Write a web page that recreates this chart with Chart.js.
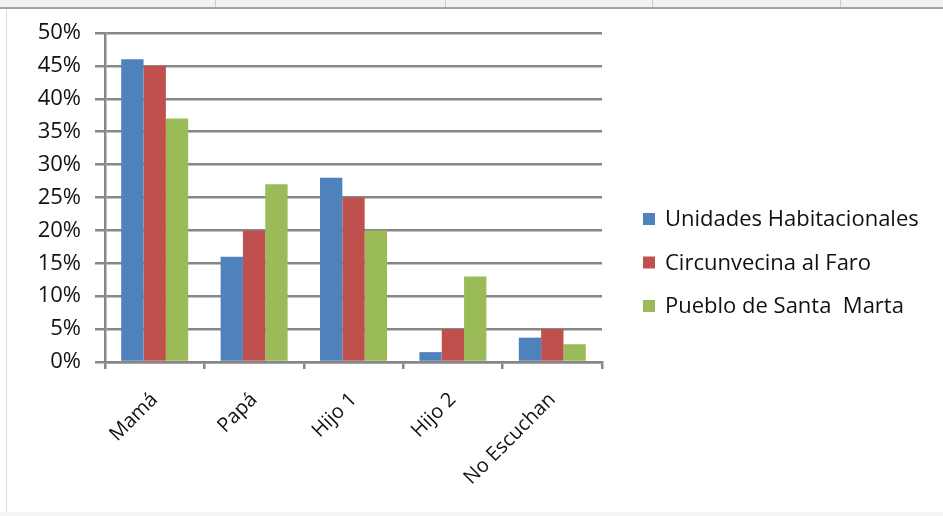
<!DOCTYPE html>
<html>
<head>
<meta charset="utf-8">
<script src="https://cdn.jsdelivr.net/npm/chart.js@4"></script>
<style>
  html, body { margin: 0; padding: 0; background: #ffffff; }
  #wrap { position: relative; width: 943px; height: 516px; overflow: hidden; }
  #topstrip { position: absolute; left: 0; top: 0; width: 943px; height: 7px; background: #f1f2f4; }
  .sep { position: absolute; top: 0; width: 1px; height: 7px; background: #c9cbcf; }
  #topline { position: absolute; left: 0; top: 7px; width: 943px; height: 2px; background: #a3a3a3; }
  #leftline { position: absolute; left: 6px; top: 9px; width: 1px; height: 504px; background: #d7dbe2; }
  #bottomline { position: absolute; left: 0; top: 512px; width: 943px; height: 4px; background: #f3f4f6; }
  canvas { position: absolute; left: 0; top: 0; }
</style>
</head>
<body>
<div id="wrap">
  <div id="topstrip">
    <div class="sep" style="left:215px"></div>
    <div class="sep" style="left:445px"></div>
    <div class="sep" style="left:652px"></div>
    <div class="sep" style="left:840px"></div>
  </div>
  <div id="topline"></div>
  <div id="leftline"></div>
  <div id="bottomline"></div>
  <canvas id="chart" width="943" height="516"></canvas>
</div>
<script>
// Who listens: share of each family member, by neighbourhood (percent)
const categories = ['Mamá', 'Papá', 'Hijo 1', 'Hijo 2', 'No Escuchan'];
const unidadesHabitacionales = [46, 16, 28, 1.5, 3.7];
const circunvecinaAlFaro = [45, 20, 25, 5, 5];
const puebloDeSantaMarta = [37, 27, 20, 13, 2.7];
const seriesNames = ['Unidades Habitacionales', 'Circunvecina al Faro', 'Pueblo de Santa  Marta'];
const yTicks = [0, 5, 10, 15, 20, 25, 30, 35, 40, 45, 50];

const seriesColors = ['#4F81BD', '#C0504D', '#9BBB59'];
const gridColor = '#878787';
const fontFamily = "'Open Sans', 'DejaVu Sans', sans-serif";

// Legend drawn to the right of the plot, one row per series
const sideLegend = {
  id: 'sideLegend',
  afterDraw(chart, args, opts) {
    const ctx = chart.ctx;
    ctx.save();
    ctx.font = opts.fontSize + 'px ' + fontFamily;
    ctx.textBaseline = 'middle';
    ctx.textAlign = 'left';
    chart.data.datasets.forEach((ds, i) => {
      const cy = opts.y + i * opts.rowGap;
      ctx.fillStyle = ds.backgroundColor;
      ctx.fillRect(opts.x, cy - opts.box / 2, opts.box, opts.box);
      ctx.fillStyle = '#111111';
      ctx.fillText(ds.label, opts.x + opts.box + opts.gap, cy + 1);
    });
    ctx.restore();
  }
};

new Chart(document.getElementById('chart'), {
  type: 'bar',
  data: {
    labels: categories,
    datasets: [
      { label: seriesNames[0], data: unidadesHabitacionales, backgroundColor: seriesColors[0] },
      { label: seriesNames[1], data: circunvecinaAlFaro, backgroundColor: seriesColors[1] },
      { label: seriesNames[2], data: puebloDeSantaMarta, backgroundColor: seriesColors[2] }
    ]
  },
  options: {
    responsive: false,
    devicePixelRatio: 1,
    animation: false,
    layout: { padding: { left: 0, right: 341, top: 33, bottom: 0 } },
    datasets: { bar: { categoryPercentage: 0.674, barPercentage: 1.0, borderWidth: 0 } },
    plugins: {
      legend: { display: false },
      tooltip: { enabled: false },
      sideLegend: { x: 643, y: 219, rowGap: 43.5, box: 12, gap: 10, fontSize: 22 }
    },
    scales: {
      x: {
        afterFit(scale) { scale.height = 154; },
        grid: {
          drawOnChartArea: false,
          drawTicks: true,
          tickLength: 7,
          color: gridColor,
          lineWidth: 2.5
        },
        border: { display: true, color: gridColor, width: 2.5 },
        ticks: {
          minRotation: 45,
          maxRotation: 45,
          padding: 19,
          color: '#111111',
          font: { family: fontFamily, size: 20 }
        }
      },
      y: {
        min: 0,
        max: 50,
        afterFit(scale) { scale.width = 105; },
        afterBuildTicks(scale) { scale.ticks = yTicks.map(v => ({ value: v })); },
        grid: {
          color: gridColor,
          lineWidth: 2.5,
          drawTicks: true,
          tickLength: 10
        },
        border: { display: true, color: gridColor, width: 2.5 },
        ticks: {
          padding: 14,
          color: '#111111',
          font: { family: fontFamily, size: 22 },
          callback: v => v + '%'
        }
      }
    }
  },
  plugins: [sideLegend]
});
</script>
</body>
</html>
